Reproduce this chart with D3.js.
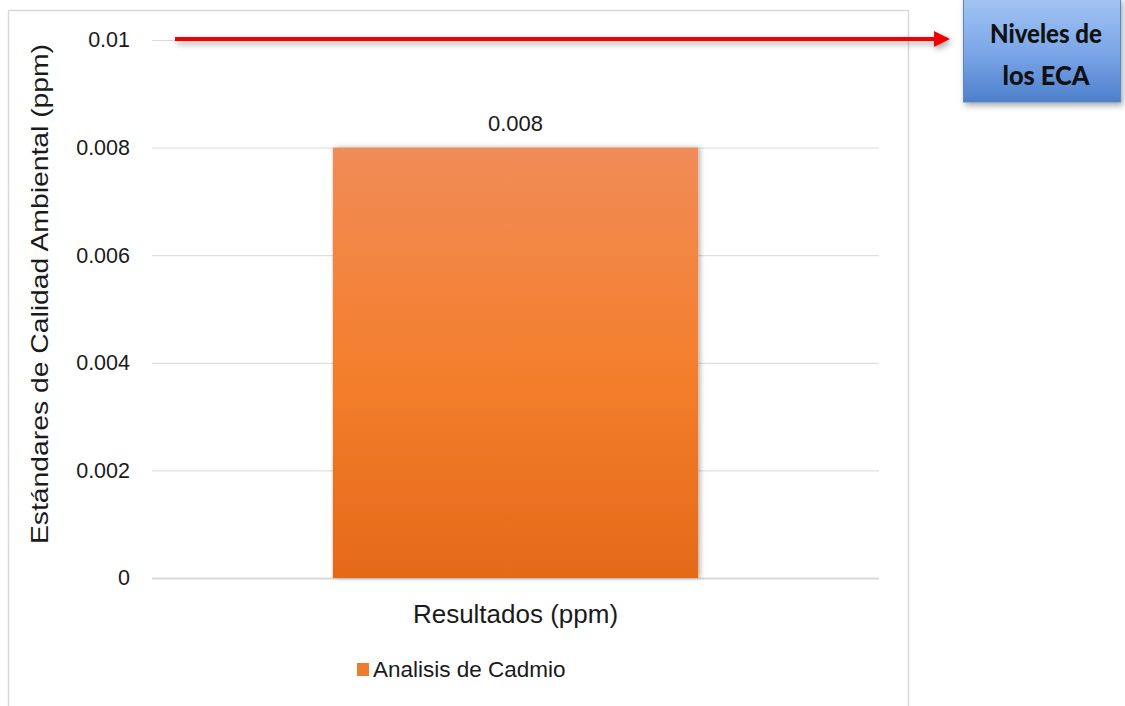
<!DOCTYPE html>
<html>
<head>
<meta charset="utf-8">
<script src="https://cdn.jsdelivr.net/npm/d3@7"></script>
<style>
  html, body { margin: 0; padding: 0; background: #fff; }
  svg { display: block; }
</style>
</head>
<body>
<svg id="chart" width="1125" height="706"></svg>
<script>
// Chart data
const categories = ["Resultados (ppm)"];
const seriesName = "Analisis de Cadmio";
const values = [0.008];
const ecaLevel = 0.01;
const yTicks = [0, 0.002, 0.004, 0.006, 0.008, 0.01];
const yTickLabels = ["0", "0.002", "0.004", "0.006", "0.008", "0.01"];
const yTitle = "Estándares de Calidad Ambiental (ppm)";
const calloutLines = ["Niveles de", "los ECA"];

const svg = d3.select("#chart");
const font = "'Liberation Sans', Arial, sans-serif";
const ink = "#1a1a1a";

const defs = svg.append("defs");
const barGrad = defs.append("linearGradient").attr("id", "barGrad")
  .attr("x1", 0).attr("y1", 0).attr("x2", 0).attr("y2", 1);
barGrad.append("stop").attr("offset", "0%").attr("stop-color", "#F08C57");
barGrad.append("stop").attr("offset", "50%").attr("stop-color", "#F47F2E");
barGrad.append("stop").attr("offset", "100%").attr("stop-color", "#E46A19");

const boxGrad = defs.append("linearGradient").attr("id", "boxGrad")
  .attr("x1", 0).attr("y1", 0).attr("x2", 0).attr("y2", 1);
boxGrad.append("stop").attr("offset", "0%").attr("stop-color", "#A3C5F4");
boxGrad.append("stop").attr("offset", "55%").attr("stop-color", "#79A4E6");
boxGrad.append("stop").attr("offset", "100%").attr("stop-color", "#4C7FCB");

const shadow = defs.append("filter").attr("id", "shadow")
  .attr("x", "-20%").attr("y", "-20%").attr("width", "140%").attr("height", "160%");
shadow.append("feDropShadow").attr("dx", 2).attr("dy", 3).attr("stdDeviation", 3)
  .attr("flood-color", "#000").attr("flood-opacity", 0.35);

const barShadow = defs.append("filter").attr("id", "barShadow")
  .attr("x", "-5%").attr("y", "-5%").attr("width", "110%").attr("height", "110%");
barShadow.append("feDropShadow").attr("dx", 2).attr("dy", 0).attr("stdDeviation", 2.5)
  .attr("flood-color", "#000").attr("flood-opacity", 0.3);

// Chart frame
svg.append("rect")
  .attr("x", 8.5).attr("y", 10.5).attr("width", 900).attr("height", 720)
  .attr("fill", "#fff").attr("stroke", "#d9d9d9").attr("stroke-width", 1.5);

// Scales
const plotLeft = 152, plotRight = 879;
const y = d3.scaleLinear().domain([0, 0.01]).range([578, 40]);
const x = d3.scaleBand().domain(categories).range([plotLeft, plotRight])
  .paddingInner(0.331).paddingOuter(0.331);

// Gridlines and tick labels via axis
const yAxis = d3.axisLeft(y)
  .tickValues(yTicks)
  .tickFormat((d, i) => yTickLabels[i])
  .tickSize(-(plotRight - plotLeft))
  .tickPadding(22);

const gy = svg.append("g").attr("transform", `translate(${plotLeft},0)`).call(yAxis);
gy.select(".domain").remove();
gy.selectAll(".tick line")
  .attr("stroke", "#d9d9d9")
  .attr("stroke-width", d => d === 0 ? 2 : 1);
gy.selectAll(".tick text")
  .attr("font-family", font).attr("font-size", 21.5).attr("fill", ink);

// Bars
svg.append("g").selectAll("rect")
  .data(values)
  .join("rect")
  .attr("x", (d, i) => x(categories[i]))
  .attr("y", d => y(d))
  .attr("width", x.bandwidth())
  .attr("height", d => y(0) - y(d))
  .attr("fill", "url(#barGrad)")
  .attr("filter", "url(#barShadow)");

// Value labels
svg.append("g").selectAll("text")
  .data(values)
  .join("text")
  .attr("x", (d, i) => x(categories[i]) + x.bandwidth() / 2)
  .attr("y", d => y(d) - 17)
  .attr("text-anchor", "middle")
  .attr("font-family", font).attr("font-size", 22).attr("fill", ink)
  .text(d => d3.format(".3f")(d));

// Category label
svg.append("text")
  .attr("x", x(categories[0]) + x.bandwidth() / 2)
  .attr("y", 623)
  .attr("text-anchor", "middle")
  .attr("font-family", font).attr("font-size", 26).attr("fill", ink)
  .text(categories[0]);

// Y title
svg.append("text")
  .attr("transform", "translate(48,294) rotate(-90)")
  .attr("text-anchor", "middle")
  .attr("font-family", font).attr("font-size", 24).attr("fill", ink)
  .attr("textLength", 500).attr("lengthAdjust", "spacingAndGlyphs")
  .text(yTitle);

// Legend
const legend = svg.append("g").attr("transform", "translate(357,663)");
legend.append("rect").attr("width", 12).attr("height", 13).attr("fill", "#EE7B2E");
legend.append("text").attr("x", 16).attr("y", 14)
  .attr("font-family", font).attr("font-size", 22.5).attr("fill", ink)
  .text(seriesName);

// ECA arrow
const ay = y(ecaLevel) - 1;
const arrow = svg.append("g").attr("filter", "url(#shadow)");
arrow.append("line")
  .attr("x1", 175).attr("x2", 937).attr("y1", ay).attr("y2", ay)
  .attr("stroke", "#F20000").attr("stroke-width", 4);
arrow.append("path")
  .attr("d", `M934,${ay - 8} L950,${ay} L934,${ay + 8} Z`)
  .attr("fill", "#F20000");

// Callout box
const box = svg.append("g");
box.append("rect")
  .attr("x", 963.5).attr("y", -2).attr("width", 157).attr("height", 104)
  .attr("fill", "url(#boxGrad)").attr("stroke", "#5B86C5").attr("stroke-width", 1)
  .attr("filter", "url(#shadow)");
const lineLens = [112, 87];
box.selectAll("text")
  .data(calloutLines)
  .join("text")
  .attr("x", 1046)
  .attr("y", (d, i) => 43 + i * 42)
  .attr("text-anchor", "middle")
  .attr("font-family", "Lato, 'Open Sans', sans-serif")
  .attr("font-weight", 900).attr("font-size", 27).attr("fill", "#111")
  .attr("textLength", (d, i) => lineLens[i]).attr("lengthAdjust", "spacingAndGlyphs")
  .text(d => d);
</script>
</body>
</html>
